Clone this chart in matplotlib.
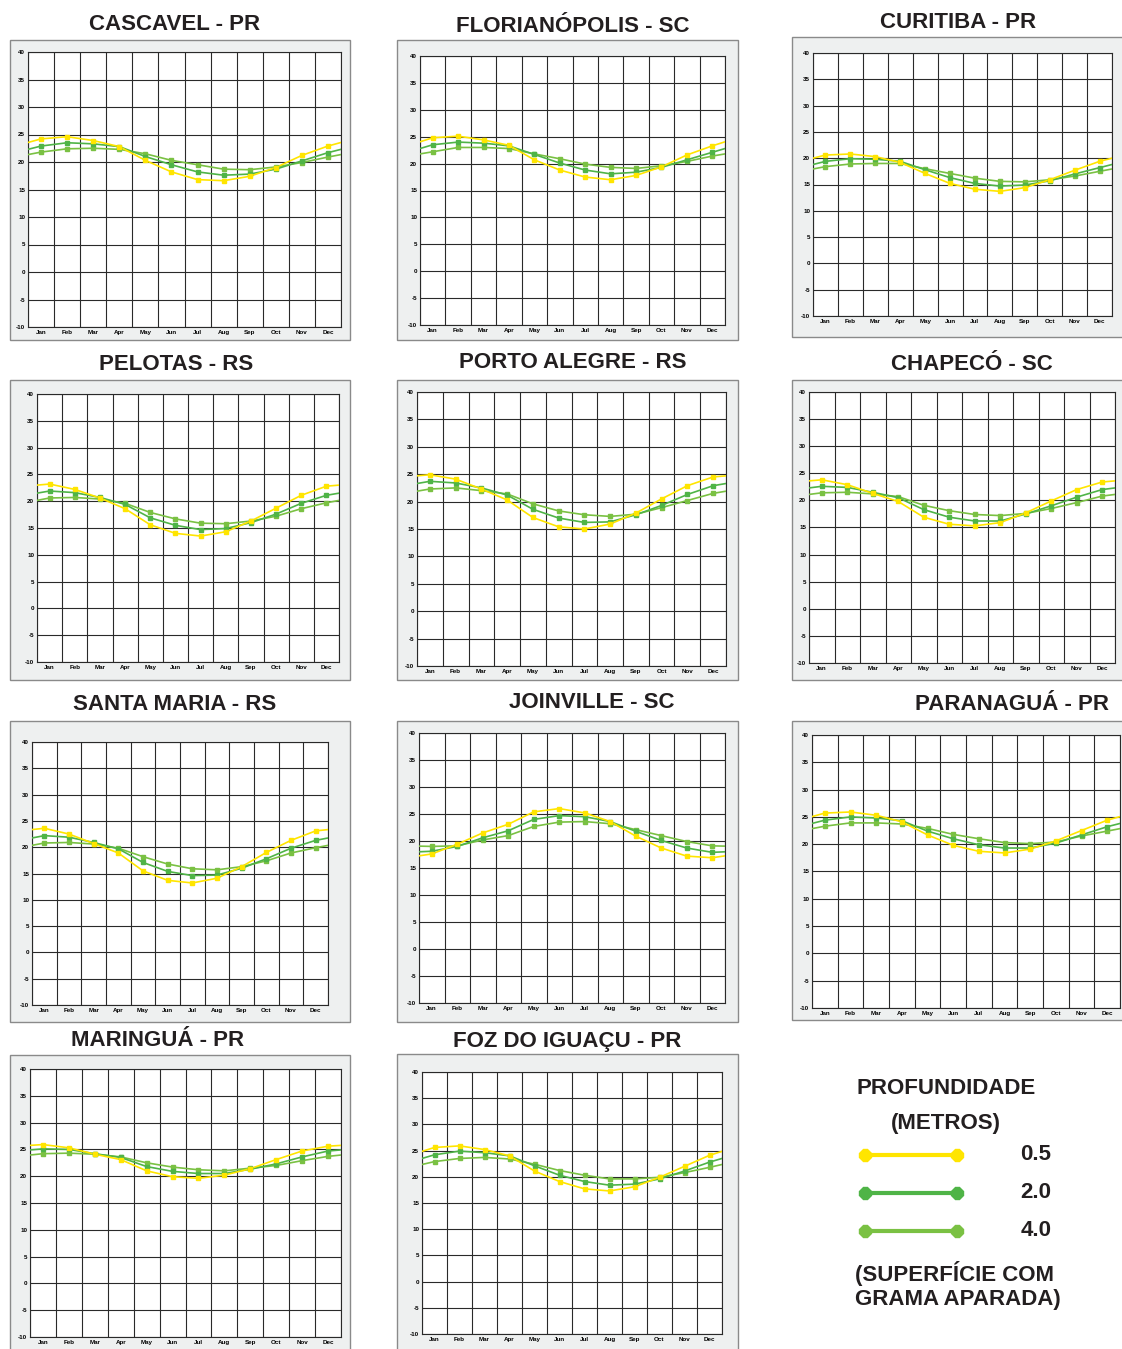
import matplotlib.pyplot as plt
from matplotlib.patches import Rectangle

W, H = 1122, 1349

months = ['Jan', 'Feb', 'Mar', 'Apr', 'May', 'Jun', 'Jul', 'Aug', 'Sep', 'Oct', 'Nov', 'Dec']
y_ticks = [-10, -5, 0, 5, 10, 15, 20, 25, 30, 35, 40]
depths = ['0.5', '2.0', '4.0']

# soil temperature (C) per month, for 0.5 m, 2.0 m and 4.0 m
cascavel_05 = [24.2, 24.6, 23.9, 22.8, 20.3, 18.2, 16.8, 16.6, 17.4, 19.0, 21.2, 22.9]
cascavel_20 = [22.9, 23.5, 23.3, 22.8, 21.0, 19.5, 18.2, 17.6, 17.8, 18.7, 20.2, 21.7]
cascavel_40 = [21.8, 22.4, 22.5, 22.3, 21.5, 20.3, 19.5, 18.7, 18.6, 19.1, 19.9, 20.9]

floripa_05 = [24.8, 25.1, 24.4, 23.4, 20.7, 18.8, 17.5, 17.0, 17.8, 19.4, 21.6, 23.3]
floripa_20 = [23.5, 24.0, 23.8, 23.3, 21.7, 20.1, 18.8, 18.1, 18.4, 19.3, 20.7, 22.1]
floripa_40 = [22.2, 23.0, 23.0, 22.8, 21.8, 20.9, 19.9, 19.3, 19.1, 19.6, 20.4, 21.4]

curitiba_05 = [20.6, 20.8, 20.3, 19.2, 17.1, 15.2, 14.1, 13.7, 14.4, 15.9, 17.7, 19.4]
curitiba_20 = [19.4, 19.9, 19.8, 19.4, 17.8, 16.3, 15.2, 14.7, 14.9, 15.7, 17.0, 18.2]
curitiba_40 = [18.4, 18.9, 19.0, 19.0, 18.0, 17.1, 16.2, 15.6, 15.5, 15.9, 16.6, 17.5]

pelotas_05 = [23.2, 22.2, 20.6, 18.6, 15.6, 14.0, 13.5, 14.3, 16.3, 18.7, 21.1, 22.8]
pelotas_20 = [21.9, 21.6, 20.7, 19.4, 16.9, 15.5, 14.7, 14.9, 16.0, 17.6, 19.6, 21.1]
pelotas_40 = [20.6, 20.7, 20.4, 19.6, 17.9, 16.7, 15.9, 15.8, 16.3, 17.2, 18.6, 19.7]

poa_05 = [24.9, 24.1, 22.3, 20.3, 17.1, 15.4, 15.0, 15.9, 17.9, 20.5, 22.9, 24.5]
poa_20 = [23.7, 23.4, 22.5, 21.2, 18.6, 17.0, 16.2, 16.3, 17.6, 19.3, 21.3, 22.9]
poa_40 = [22.3, 22.5, 22.0, 21.4, 19.6, 18.3, 17.6, 17.3, 17.7, 18.9, 20.2, 21.5]

chapeco_05 = [23.8, 22.9, 21.3, 19.8, 16.9, 15.6, 15.3, 15.9, 17.7, 19.9, 22.0, 23.4]
chapeco_20 = [22.6, 22.4, 21.5, 20.5, 18.3, 16.9, 16.2, 16.2, 17.5, 19.0, 20.6, 22.0]
chapeco_40 = [21.4, 21.5, 21.2, 20.7, 19.1, 18.1, 17.4, 17.2, 17.6, 18.5, 19.6, 20.8]

smaria_05 = [23.6, 22.5, 20.7, 18.9, 15.5, 13.7, 13.2, 14.1, 16.3, 19.0, 21.3, 23.1]
smaria_20 = [22.2, 21.9, 20.9, 19.7, 17.1, 15.4, 14.6, 14.7, 16.0, 17.8, 19.8, 21.3]
smaria_40 = [20.8, 20.9, 20.6, 19.8, 18.2, 16.8, 15.9, 15.7, 16.3, 17.4, 18.9, 19.9]

joinville_05 = [17.6, 19.4, 21.5, 23.1, 25.4, 26.0, 25.2, 23.6, 20.9, 18.7, 17.2, 16.9]
joinville_20 = [18.1, 19.0, 20.6, 21.9, 24.0, 24.7, 24.5, 23.6, 21.8, 20.1, 18.7, 17.9]
joinville_40 = [19.0, 19.1, 20.2, 21.0, 22.7, 23.5, 23.6, 23.2, 22.1, 21.0, 19.9, 19.1]

paranagua_05 = [25.7, 25.9, 25.3, 24.1, 21.7, 19.8, 18.7, 18.4, 19.1, 20.6, 22.5, 24.4]
paranagua_20 = [24.4, 25.0, 24.8, 24.3, 22.4, 21.0, 19.9, 19.3, 19.3, 20.2, 21.7, 23.2]
paranagua_40 = [23.3, 23.9, 23.9, 23.7, 22.9, 21.8, 21.0, 20.3, 20.1, 20.4, 21.5, 22.4]

maringa_05 = [25.9, 25.3, 24.1, 23.1, 21.0, 19.9, 19.6, 20.2, 21.4, 23.1, 24.7, 25.6]
maringa_20 = [25.1, 25.0, 24.2, 23.5, 21.8, 20.9, 20.5, 20.5, 21.3, 22.3, 23.6, 24.7]
maringa_40 = [24.2, 24.3, 24.1, 23.6, 22.5, 21.7, 21.2, 21.0, 21.5, 22.0, 22.9, 23.7]

foz_05 = [25.6, 25.9, 25.2, 24.0, 21.1, 19.1, 17.7, 17.3, 18.1, 19.9, 22.0, 24.1]
foz_20 = [24.2, 24.9, 24.6, 24.0, 22.1, 20.3, 19.1, 18.4, 18.6, 19.6, 21.1, 22.8]
foz_40 = [22.9, 23.5, 23.7, 23.4, 22.4, 21.2, 20.3, 19.6, 19.6, 19.9, 20.8, 21.8]

colors = ['#FFE500', '#4FB447', '#7AC143']
font = 'Liberation Sans'

# title, series, frame box (px), plot area (px), title centre (px)
panels = [
    ('CASCAVEL - PR', (cascavel_05, cascavel_20, cascavel_40), (10, 40, 350, 340), (28, 52, 341, 327), (175, 25)),
    ('FLORIANÓPOLIS - SC', (floripa_05, floripa_20, floripa_40), (397, 40, 738, 340), (420, 56, 725, 325), (573, 27)),
    ('CURITIBA - PR', (curitiba_05, curitiba_20, curitiba_40), (792, 37, 1124, 337), (813, 53, 1112, 316), (958, 22)),
    ('PELOTAS - RS', (pelotas_05, pelotas_20, pelotas_40), (10, 380, 350, 680), (37, 394, 339, 662), (176, 365)),
    ('PORTO ALEGRE - RS', (poa_05, poa_20, poa_40), (397, 380, 738, 680), (417, 392, 726, 666), (573, 362)),
    ('CHAPECÓ - SC', (chapeco_05, chapeco_20, chapeco_40), (792, 380, 1124, 680), (809, 392, 1115, 663), (972, 365)),
    ('SANTA MARIA - RS', (smaria_05, smaria_20, smaria_40), (10, 721, 350, 1022), (32, 742, 328, 1005), (175, 705)),
    ('JOINVILLE - SC', (joinville_05, joinville_20, joinville_40), (397, 721, 738, 1022), (419, 733, 725, 1003), (592, 703)),
    ('PARANAGUÁ - PR', (paranagua_05, paranagua_20, paranagua_40), (792, 721, 1124, 1020), (812, 735, 1120, 1008), (1012, 705)),
    ('MARINGUÁ - PR', (maringa_05, maringa_20, maringa_40), (10, 1055, 350, 1352), (30, 1069, 341, 1337), (158, 1041)),
    ('FOZ DO IGUAÇU - PR', (foz_05, foz_20, foz_40), (397, 1054, 738, 1352), (422, 1072, 722, 1334), (567, 1042)),
]


def fx(x):
    return x / W


def fy(y):
    return 1 - y / H


fig = plt.figure(figsize=(W / 100, H / 100), dpi=100)
fig.patch.set_facecolor('white')

for title, series, box, area, tpos in panels:
    bx0, by0, bx1, by1 = box
    fig.patches.append(Rectangle((fx(bx0), fy(by1)), fx(bx1 - bx0), (by1 - by0) / H,
                                 transform=fig.transFigure, facecolor='#EEF0F0',
                                 edgecolor='#8A8A8A', linewidth=1.0, zorder=-5))
    fig.text(fx(tpos[0]), fy(tpos[1]), title, ha='center', va='center',
             fontsize=16, fontweight='bold', family=font, color='#231F20')

    x0, y0, x1, y1 = area
    ax = fig.add_axes([fx(x0), fy(y1), fx(x1 - x0), (y1 - y0) / H])
    ax.set_facecolor('white')
    ax.set_xlim(0, 12)
    ax.set_ylim(-10, 40)
    ax.set_xticks(range(13))
    ax.set_xticklabels([])
    ax.set_xticks([i + 0.5 for i in range(12)], minor=True)
    ax.set_xticklabels(months, minor=True, fontsize=4.5, fontweight='bold', family=font)
    ax.set_yticks(y_ticks)
    ax.set_yticklabels([str(v) for v in y_ticks], fontsize=4.5, fontweight='bold', family=font)
    ax.tick_params(which='both', length=0, pad=2)
    ax.grid(True, which='major', color='#2A2A2A', linewidth=0.8)
    for s in ax.spines.values():
        s.set_color('#2A2A2A')
        s.set_linewidth(0.8)

    mx = [i + 0.5 for i in range(12)]
    # draw the deeper layers first so the 0.5 m curve stays on top
    for vals, c in reversed(list(zip(series, colors))):
        ax.plot([-0.5] + mx + [12.5], [vals[-1]] + list(vals) + [vals[0]],
                color=c, linewidth=1.2, zorder=3)
        ax.plot(mx, vals, linestyle='none', marker='s', markersize=2.2,
                color=c, zorder=4)

# legend block
fig.text(fx(946), fy(1089), 'PROFUNDIDADE', ha='center', va='center',
         fontsize=16, fontweight='bold', family=font, color='#231F20')
fig.text(fx(946), fy(1123), '(METROS)', ha='center', va='center',
         fontsize=16, fontweight='bold', family=font, color='#231F20')
lax = fig.add_axes([fx(850), fy(1250), fx(220), 135 / H])
lax.set_xlim(850, 1070)
lax.set_ylim(1250, 1115)
lax.axis('off')
for i, (d, c) in enumerate(zip(depths, colors)):
    ly = 1155 + 38 * i
    lax.plot([865, 957], [ly, ly], color=c, linewidth=3, marker='8', markersize=9)
    lax.text(1036, ly, d, ha='center', va='center', fontsize=16, fontweight='bold',
             family=font, color='#231F20')
fig.text(fx(855), fy(1274), '(SUPERFÍCIE COM', ha='left', va='center',
         fontsize=16, fontweight='bold', family=font, color='#231F20')
fig.text(fx(855), fy(1300), 'GRAMA APARADA)', ha='left', va='center',
         fontsize=16, fontweight='bold', family=font, color='#231F20')

fig.savefig('out.png', dpi=100)
